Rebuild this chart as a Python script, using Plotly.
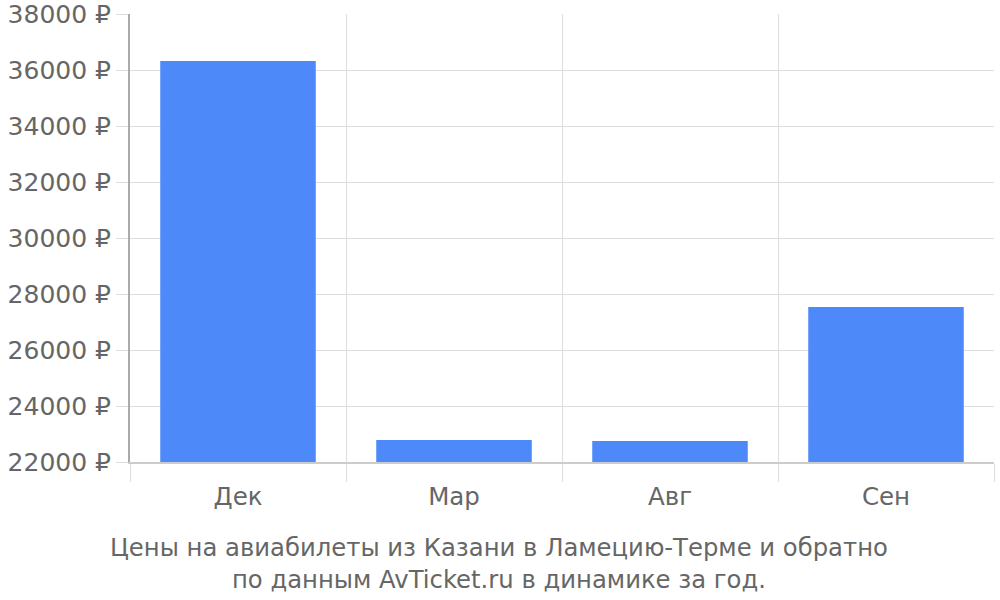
import plotly.graph_objects as go

months = ["Дек", "Мар", "Авг", "Сен"]
prices = [36320, 22790, 22750, 27540]
y_ticks = list(range(22000, 38001, 2000))
y_tick_labels = [f"{v} ₽" for v in y_ticks]
title_lines = ["Цены на авиабилеты из Казани в Ламецию-Терме и обратно",
               "по данным AvTicket.ru в динамике за год."]

FONT = "DejaVu Sans"
GRAY = "#666666"

fig = go.Figure(go.Bar(
    x=months, y=prices, width=0.72,
    marker=dict(color="#4d89f9", line=dict(width=0)),
    hoverinfo="skip",
))

fig.update_layout(
    width=1000, height=600,
    margin=dict(l=130, r=6, t=14, b=138, autoexpand=False),
    paper_bgcolor="white", plot_bgcolor="white",
    font=dict(family=FONT, size=24, color=GRAY),
    showlegend=False,
)
fig.update_xaxes(
    type="category", tickson="boundaries", automargin=False,
    showgrid=True, gridcolor="#dddddd", gridwidth=1,
    ticks="outside", ticklen=18, tickcolor="#dddddd",
    showline=True, linecolor="#cccccc", linewidth=2,
    ticklabelstandoff=12,
    tickfont=dict(family=FONT, size=24.5, color=GRAY),
)
fig.update_yaxes(
    range=[22000, 38000], tickvals=y_ticks, ticktext=y_tick_labels,
    automargin=False, ticklabeloverflow="allow",
    showgrid=True, gridcolor="#dddddd", gridwidth=1,
    ticks="outside", ticklen=12, tickcolor="#dddddd",
    showline=True, linecolor="#aaaaaa", linewidth=2,
    zeroline=False,
    tickfont=dict(family=FONT, size=25, color=GRAY),
)
fig.add_annotation(
    text="<br>".join(title_lines), xref="paper", yref="paper",
    x=0.427, y=-0.155, xanchor="center", yanchor="top", showarrow=False,
    font=dict(family=FONT, size=24.3, color=GRAY),
)
fig.write_html("out.html", config={"displayModeBar": False},
               post_script="document.body.style.margin='0';document.body.style.padding='0';")
